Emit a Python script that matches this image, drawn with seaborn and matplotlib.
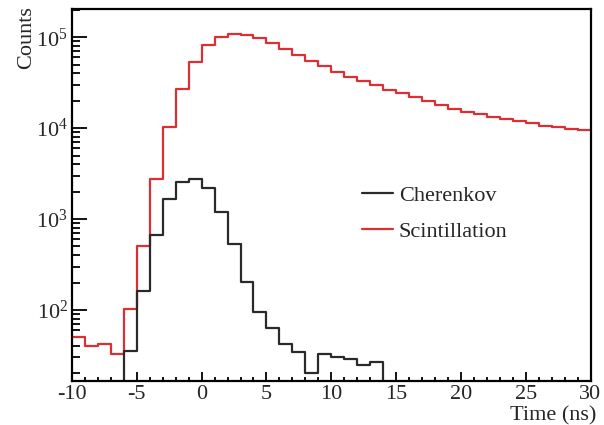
import numpy as np
import pandas as pd
import matplotlib
matplotlib.use("Agg")
import matplotlib.pyplot as plt
import seaborn as sns
from matplotlib.ticker import LogLocator, MultipleLocator

# ---- data (1 ns bins, left edges from -10 to 29 ns) ----
bin_left = list(range(-10, 30))
cherenkov = [0, 0, 0, 0,
             35, 160, 665, 1650, 2570, 2730, 2210, 1200, 530, 205,
             94, 63, 42, 34, 20, 33, 30, 29, 25, 27,
             0, 0, 0, 0, 0, 0, 0, 0, 0, 0, 0, 0, 0, 0, 0, 0]
scintillation = [50, 40.5, 42, 32.6, 103, 505, 2730, 10300, 27300, 53500,
                 81700, 100800, 109000, 107000, 98000, 87000, 75200, 64600, 54500, 48000,
                 41600, 36700, 32800, 29700, 26600, 24100, 22100, 19950, 17900, 16450,
                 15100, 14150, 13300, 12470, 11940, 11270, 10600, 10180, 9750, 9500]
series_names = ["Cherenkov", "Scintillation"]
series_colors = {"Cherenkov": "#2a2a2a", "Scintillation": "#dd2e34"}
x_ticks = [-10, -5, 0, 5, 10, 15, 20, 25, 30]

sns.set_style("ticks")
plt.rcParams["font.family"] = ["Liberation Serif", "DejaVu Serif"]
plt.rcParams["mathtext.fontset"] = "custom"
plt.rcParams["mathtext.rm"] = "Liberation Serif"
plt.rcParams["mathtext.it"] = "Liberation Serif:italic"
plt.rcParams["axes.unicode_minus"] = False

edges = [float(b) for b in bin_left] + [float(bin_left[-1] + 1)]
centers = [b + 0.5 for b in bin_left]

fig = plt.figure(figsize=(6.04, 4.25), dpi=100)
ax = fig.add_axes([72 / 604, 1 - 381 / 425, (590.5 - 72) / 604, (381 - 9) / 425])
ax.set_yscale("log", nonpositive="clip")

for name, vals in [("Scintillation", scintillation), ("Cherenkov", cherenkov)]:
    df = pd.DataFrame({"t": centers, "w": vals})
    sns.histplot(data=df, x="t", weights="w", bins=edges, element="step",
                 fill=False, color=series_colors[name], linewidth=1.6, ax=ax,
                 label=name)

ax.set_xlim(-10, 30)
ax.set_ylim(16.5, 2.05e5)

ax.xaxis.set_major_locator(plt.FixedLocator(x_ticks))
ax.xaxis.set_minor_locator(MultipleLocator(1))
ax.yaxis.set_major_locator(LogLocator(base=10, numticks=10))
ax.yaxis.set_minor_locator(LogLocator(base=10, subs=np.arange(2, 10), numticks=20))

ax.tick_params(axis="both", which="both", direction="in", top=False, right=False,
               labelsize=16, width=1.3, color="black")
ax.tick_params(axis="x", which="major", length=6.5, pad=3)
ax.tick_params(axis="x", which="minor", length=3.2)
ax.tick_params(axis="y", which="major", length=11, pad=3)
ax.tick_params(axis="y", which="minor", length=6)
for s in ax.spines.values():
    s.set_linewidth(1.6)
    s.set_color("black")

ax.set_xlabel("Time (ns)", fontsize=16, ha="right", va="center")
ax.xaxis.set_label_coords(1.011, -0.093)
ax.set_ylabel("Counts", fontsize=16, ha="right", va="center")
ax.yaxis.set_label_coords(-0.087, 1.008)

lines = {l.get_label(): l for l in ax.get_lines()}
leg = fig.legend([lines["Cherenkov"], lines["Scintillation"]], series_names,
                 loc="center left", bbox_to_anchor=(362 / 604, 1 - 213.5 / 425),
                 frameon=False, fontsize=16, handlelength=1.4, handletextpad=0.25,
                 labelspacing=0.68, borderpad=0, borderaxespad=0)

fig.savefig("out.png", dpi=100)
